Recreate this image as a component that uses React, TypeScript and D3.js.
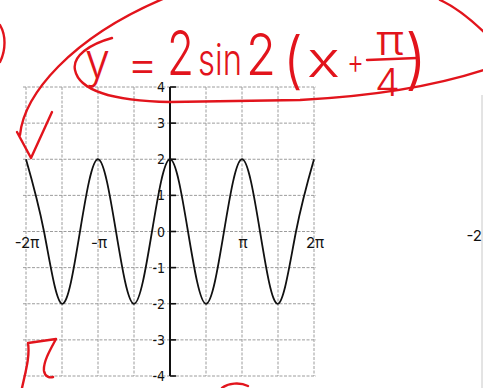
import React from "react";
import * as d3 from "d3";

const PI = Math.PI;

// Sample points of the graphed curve: peaks, troughs and zero crossings
const CURVE_X = [
  -2 * PI, -7 * PI / 4, -3 * PI / 2, -5 * PI / 4, -PI, -3 * PI / 4, -PI / 2, -PI / 4,
  0, PI / 4, PI / 2, 3 * PI / 4, PI, 5 * PI / 4, 3 * PI / 2, 7 * PI / 4, 2 * PI,
];
const CURVE_Y = [2, 0, -2, 0, 2, 0, -2, 0, 2, 0, -2, 0, 2, 0, -2, 0, 2];

// Grid and axis ticks
const X_GRID = [-2, -1.5, -1, -0.5, 0, 0.5, 1, 1.5, 2].map((k) => k * PI);
const Y_TICKS = [4, 3, 2, 1, 0, -1, -2, -3, -4];
const X_LABEL_VALUES = [-2 * PI, -PI, PI, 2 * PI];
const X_LABEL_TEXT = ["-2π", "-π", "π", "2π"];

const W = 483;
const H = 388;
const RED = "#e2141c";

export default function App() {
  const x = d3.scaleLinear().domain([-2 * PI, 2 * PI]).range([26, 314]);
  const y = d3.scaleLinear().domain([-4, 4]).range([376, 87]);

  const pts: [number, number][] = CURVE_X.map((v, i) => [v, CURVE_Y[i]]);
  const line = d3
    .line<[number, number]>()
    .x((d) => x(d[0]))
    .y((d) => y(d[1]))
    .curve(d3.curveNatural);

  const handFont = "Inter, 'Open Sans', Lato, sans-serif";
  const tickFont = "'Liberation Sans Narrow', 'DejaVu Sans Condensed', 'DejaVu Sans', sans-serif";
  const fit = "spacingAndGlyphs";

  return (
    <svg
      width={W}
      height={H}
      viewBox={`0 0 ${W} ${H}`}
      style={{ position: "fixed", left: 0, top: 0, background: "#fff" }}
    >
      <rect width={W} height={H} fill="#fff" />

      {/* grid */}
      <g stroke="#9c9c9c" strokeWidth={1} strokeDasharray="3 1.5">
        {Y_TICKS.map((t) => (
          <line key={"h" + t} x1={23} x2={316} y1={y(t)} y2={y(t)} />
        ))}
        {X_GRID.map((v, i) => (
          <line key={"v" + i} x1={x(v)} x2={x(v)} y1={y(4)} y2={y(-4)} />
        ))}
      </g>

      {/* next graph's edge on the right */}
      <line x1={482} x2={482} y1={95} y2={388} stroke="#c8c8c8" strokeWidth={1} />
      <text x={482} y={241} textAnchor="end" fontFamily={handFont} fontSize={15} fill="#111">
        -2
      </text>

      {/* y axis */}
      <line x1={x(0)} x2={x(0)} y1={y(4)} y2={y(-4)} stroke="#111" strokeWidth={2} />
      {Y_TICKS.map((t) => (
        <g key={"t" + t}>
          <line x1={x(0)} x2={x(0) + 6} y1={y(t)} y2={y(t)} stroke="#111" strokeWidth={1.6} />
          <text
            x={x(0) - 5}
            y={y(t) + 5}
            textAnchor="end"
            fontFamily={tickFont}
            fontSize={14}
            fill="#111"
          >
            {t}
          </text>
        </g>
      ))}

      {/* x labels */}
      {X_LABEL_VALUES.map((v, i) => (
        <text
          key={"xl" + i}
          x={x(v) + 1}
          y={y(0) + 16}
          textAnchor="middle"
          fontFamily={handFont}
          fontSize={15}
          fill="#111"
        >
          {X_LABEL_TEXT[i]}
        </text>
      ))}

      {/* curve */}
      <path d={line(pts) ?? ""} fill="none" stroke="#111" strokeWidth={1.8} />

      {/* red annotations */}
      <g fill="none" stroke={RED} strokeWidth={2.4} strokeLinecap="round" strokeLinejoin="round">
        <path d="M0,25 C6,35 6,50 0,62" />
        <path d="M20,135 C24,95 70,38 165,-2" />
        <path d="M440,0 C458,8 474,22 490,38" />
        <path d="M112,38 C90,44 72,56 75,70 C79,90 112,101 170,102 L300,100 C380,96 440,85 490,68" />
        <path d="M17,132 L31,158 L52,112" />
        <path d="M367,60 L417,58" />
        <path d="M22,388 C26,370 30,356 28,343 L56,339 C50,350 43,362 44,371 C45,377 50,378 53,377" />
        <path d="M222,388 C228,383 240,382 248,386" />
      </g>
      <text fill={RED} fontFamily={handFont} fontWeight={300}>
        <tspan x={85} y={78} fontSize={50} textLength={25} lengthAdjust={fit}>y</tspan>
        <tspan x={127} y={80} fontSize={46} textLength={31} lengthAdjust={fit}>=</tspan>
        <tspan x={167} y={75} fontSize={62} textLength={27} lengthAdjust={fit}>2</tspan>
        <tspan x={198} y={75} fontSize={44} textLength={44} lengthAdjust={fit}>sin</tspan>
        <tspan x={246} y={75} fontSize={58} textLength={30} lengthAdjust={fit}>2</tspan>
        <tspan x={283} y={82} fontSize={62} textLength={20} lengthAdjust={fit}>(</tspan>
        <tspan x={307} y={77} fontSize={50} textLength={33} lengthAdjust={fit}>x</tspan>
        <tspan x={347} y={74} fontSize={34} textLength={17} lengthAdjust={fit}>+</tspan>
        <tspan x={376} y={55} fontSize={42} textLength={28} lengthAdjust={fit}>π</tspan>
        <tspan x={375} y={96} fontSize={38} textLength={25} lengthAdjust={fit}>4</tspan>
        <tspan x={405} y={82} fontSize={66} textLength={22} lengthAdjust={fit}>)</tspan>
      </text>
    </svg>
  );
}
